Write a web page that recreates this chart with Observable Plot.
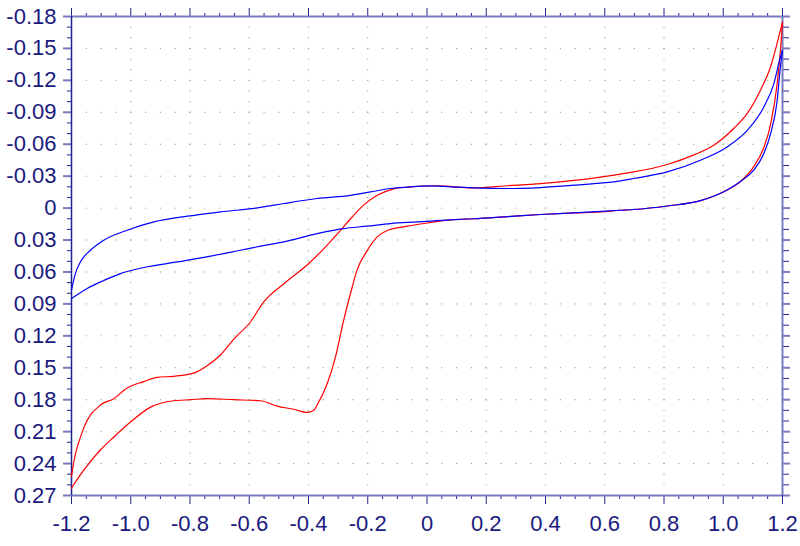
<!DOCTYPE html>
<html><head><meta charset="utf-8">
<script src="https://cdn.jsdelivr.net/npm/d3@7"></script>
<script src="https://cdn.jsdelivr.net/npm/@observablehq/plot@0.6"></script>
<style>html,body{margin:0;padding:0;background:#fff;}</style>
</head><body><div id="chart"></div>
<script>
// Tick values and labels
const xTicks = [-1.2,-1.0,-0.8,-0.6,-0.4,-0.2,0,0.2,0.4,0.6,0.8,1.0,1.2];
const xTickLabels = ["-1.2","-1.0","-0.8","-0.6","-0.4","-0.2","0","0.2","0.4","0.6","0.8","1.0","1.2"];
const yTicks = [-0.18,-0.15,-0.12,-0.09,-0.06,-0.03,0,0.03,0.06,0.09,0.12,0.15,0.18,0.21,0.24,0.27];
const yTickLabels = ["-0.18","-0.15","-0.12","-0.09","-0.06","-0.03","0","0.03","0.06","0.09","0.12","0.15","0.18","0.21","0.24","0.27"];

// Red curve: upper (on-screen) branch, left to right
const redUpper = [[-1.2,0.252],[-1.19,0.235],[-1.173,0.218],[-1.158,0.206],[-1.102,0.185],[-1.057,0.179],[-1.012,0.169],[-0.956,0.163],[-0.911,0.159],[-0.855,0.158],[-0.787,0.155],[-0.742,0.148],[-0.697,0.138],[-0.652,0.123],[-0.596,0.107],[-0.551,0.088],[-0.483,0.071],[-0.399,0.052],[-0.348,0.038],[-0.292,0.021],[-0.258,0.010],[-0.213,-0.003],[-0.168,-0.012],[-0.112,-0.018],[-0.056,-0.020],[0.034,-0.021],[0.158,-0.019],[0.271,-0.021],[0.383,-0.023],[0.496,-0.026],[0.653,-0.032],[0.698,-0.034],[0.811,-0.041],[0.901,-0.050],[0.968,-0.059],[1.036,-0.075],[1.081,-0.089],[1.126,-0.111],[1.160,-0.133],[1.182,-0.155],[1.2,-0.175]];
// Red curve: lower (on-screen) branch, left to right
const redLower = [[-1.2,0.263],[-1.158,0.246],[-1.102,0.227],[-1.057,0.215],[-1.001,0.201],[-0.933,0.187],[-0.855,0.181],[-0.798,0.180],[-0.742,0.179],[-0.652,0.180],[-0.562,0.181],[-0.506,0.186],[-0.450,0.189],[-0.404,0.192],[-0.382,0.190],[-0.371,0.185],[-0.337,0.165],[-0.309,0.140],[-0.281,0.105],[-0.258,0.080],[-0.236,0.058],[-0.202,0.040],[-0.168,0.027],[-0.134,0.021],[-0.067,0.017],[0.001,0.014],[0.079,0.011],[0.158,0.010],[0.271,0.008],[0.383,0.006],[0.496,0.0045],[0.586,0.0036],[0.653,0.002],[0.698,0.0013],[0.811,-0.002],[0.923,-0.007],[1.013,-0.017],[1.058,-0.025],[1.103,-0.039],[1.137,-0.057],[1.160,-0.079],[1.182,-0.117],[1.193,-0.148],[1.2,-0.173]];
// Blue curve: upper branch
const blueUpper = [[-1.2,0.077],[-1.187,0.0615],[-1.170,0.0506],[-1.136,0.0396],[-1.091,0.0302],[-1.012,0.0208],[-0.922,0.013],[-0.809,0.0076],[-0.697,0.0036],[-0.562,-0.0006],[-0.483,-0.0043],[-0.371,-0.009],[-0.258,-0.012],[-0.191,-0.0152],[-0.123,-0.0184],[-0.056,-0.020],[0.012,-0.0208],[0.079,-0.020],[0.158,-0.019],[0.271,-0.0184],[0.383,-0.0193],[0.496,-0.0215],[0.653,-0.0255],[0.698,-0.0278],[0.811,-0.034],[0.923,-0.045],[1.013,-0.0575],[1.081,-0.073],[1.137,-0.095],[1.171,-0.117],[1.193,-0.142],[1.2,-0.148]];
// Blue curve: lower branch
const blueLower = [[-1.2,0.085],[-1.147,0.0755],[-1.091,0.068],[-1.035,0.0615],[-0.956,0.0558],[-0.843,0.0506],[-0.731,0.0452],[-0.630,0.0396],[-0.562,0.0358],[-0.483,0.0318],[-0.371,0.0239],[-0.281,0.0192],[-0.202,0.017],[-0.123,0.0145],[-0.033,0.013],[0.079,0.011],[0.158,0.010],[0.271,0.008],[0.383,0.006],[0.496,0.0045],[0.653,0.002],[0.698,0.0013],[0.811,-0.002],[0.923,-0.007],[1.013,-0.017],[1.058,-0.025],[1.103,-0.0356],[1.137,-0.0513],[1.160,-0.070],[1.182,-0.101],[1.193,-0.133],[1.2,-0.148]];

const tag = (arr, key) => arr.map(([x, y]) => ({x, y, key}));
const redData = [...tag(redUpper, "ru"), ...tag(redLower, "rl")];
const blueData = [...tag(blueUpper, "bu"), ...tag(blueLower, "bl")];

const xMinor = d3.range(-24, 25).filter(i => i % 4 !== 0).map(i => +(i * 0.05).toFixed(2));
const yMinor = d3.range(-18, 28).filter(i => i % 3 !== 0).map(i => i / 100);

const gridDots = [];
for (const xv of xTicks.slice(1, -1)) for (let i = -17; i <= 26; i++) gridDots.push([xv, i / 100]);
for (const yv of yTicks.slice(1, -1)) for (let i = -23; i <= 23; i++) gridDots.push([+(i * 0.05).toFixed(2), yv]);

const navy = "#22228c";
const light = "#7a7ac0";
const textCol = "#1a1a7e";
const font = "'Liberation Sans', Arial, sans-serif";
const xFmt = d => xTickLabels[xTicks.indexOf(d)];
const yFmt = d => yTickLabels[yTicks.indexOf(d)];

const chart = Plot.plot({
  width: 800, height: 546,
  marginLeft: 71, marginRight: 18, marginTop: 16, marginBottom: 51,
  style: {fontFamily: font, background: "#fff"},
  x: {domain: [-1.2, 1.2]},
  y: {domain: [-0.18, 0.27], reverse: true},
  marks: [
    Plot.dot(gridDots, {x: d => d[0], y: d => d[1], r: 0.7, fill: "#98b070"}),
    // bottom axis
    Plot.axisX({anchor: "bottom", ticks: xMinor, tickSize: 4, tickFormat: () => "", stroke: navy, label: null}),
    Plot.axisX({anchor: "bottom", ticks: xTicks, tickSize: 9, tickPadding: 11, tickFormat: xFmt, stroke: navy, fill: textCol, fontSize: 22, label: null}),
    // top axis
    Plot.axisX({anchor: "top", ticks: xMinor, tickSize: 4, tickFormat: () => "", stroke: navy, label: null}),
    Plot.axisX({anchor: "top", ticks: xTicks, tickSize: 9, tickFormat: () => "", stroke: navy, label: null}),
    // left axis
    Plot.axisY({anchor: "left", ticks: yMinor, tickSize: 4, tickFormat: () => "", stroke: navy, label: null}),
    Plot.axisY({anchor: "left", ticks: yTicks, tickSize: 8, tickPadding: 7, tickFormat: yFmt, stroke: light, strokeWidth: 2, fill: textCol, fontSize: 22, label: null}),
    // right axis
    Plot.axisY({anchor: "right", ticks: yMinor, tickSize: 6, tickFormat: () => "", stroke: navy, label: null}),
    Plot.axisY({anchor: "right", ticks: yTicks, tickSize: 7, tickFormat: () => "", stroke: light, strokeWidth: 2, label: null}),
    // frame lines
    Plot.ruleY([-0.18], {stroke: light, strokeWidth: 2}),
    Plot.ruleY([0.27], {stroke: light, strokeWidth: 2}),
    Plot.ruleX([1.2], {stroke: light, strokeWidth: 2}),
    Plot.ruleX([-1.2], {stroke: navy, strokeWidth: 1.5}),
    // curves
    Plot.line(redData, {x: "x", y: "y", z: "key", curve: "monotone-x", stroke: "#ff0000", strokeWidth: 1.2}),
    Plot.line(blueData, {x: "x", y: "y", z: "key", curve: "monotone-x", stroke: "#0000ff", strokeWidth: 1.2})
  ]
});
document.getElementById("chart").appendChild(chart);
</script>
</body></html>
